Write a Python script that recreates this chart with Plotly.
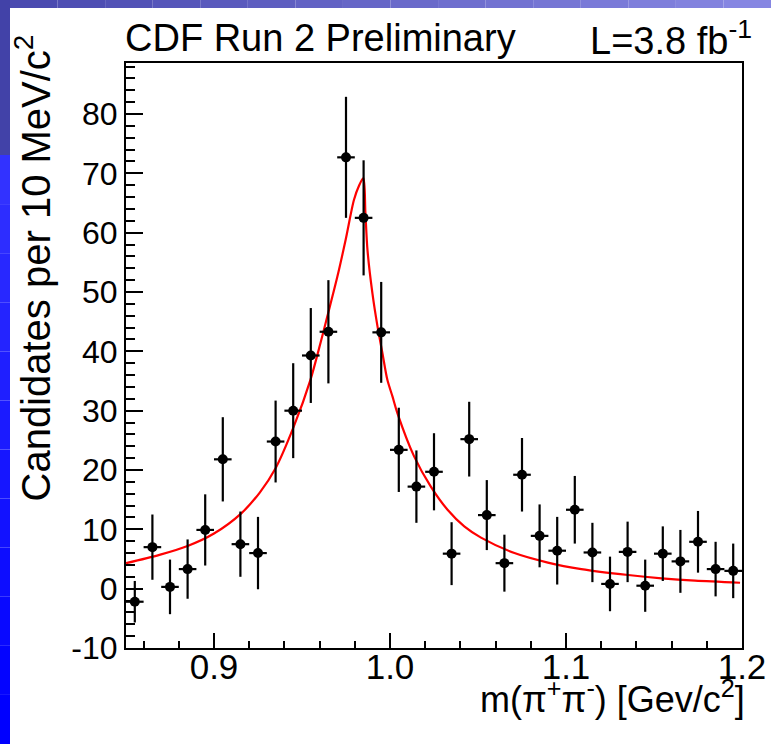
import plotly.graph_objects as go

# ---- data ----
mass = [0.855, 0.865, 0.875, 0.885, 0.895, 0.905, 0.915, 0.925, 0.935, 0.945,
        0.955, 0.965, 0.975, 0.985, 0.995, 1.005, 1.015, 1.025, 1.035, 1.045,
        1.055, 1.065, 1.075, 1.085, 1.095, 1.105, 1.115, 1.125, 1.135, 1.145,
        1.155, 1.165, 1.175, 1.185, 1.195]
counts = [-2.2, 7.0, 0.3, 3.3, 9.9, 21.8, 7.5, 6.0, 24.8, 30.0,
          39.3, 43.3, 72.7, 62.5, 43.2, 23.4, 17.2, 19.7, 5.9, 25.2,
          12.4, 4.3, 19.2, 8.9, 6.4, 13.3, 6.1, 0.8, 6.2, 0.5,
          5.9, 4.6, 7.9, 3.3, 3.0]
count_err = [3.5, 5.5, 4.6, 5.0, 6.0, 7.1, 5.5, 6.1, 6.9, 8.0,
             8.0, 8.7, 10.2, 9.7, 8.5, 7.1, 6.1, 6.5, 5.3, 6.3,
             5.9, 4.8, 6.2, 5.3, 5.7, 5.7, 5.0, 4.6, 5.1, 4.4,
             4.6, 5.3, 5.2, 4.6, 4.6]
bin_half = [0.005] * len(mass)

fit_x = [0.850, 0.869, 0.885, 0.900, 0.9155, 0.926, 0.935, 0.9453, 0.9548,
         0.9605, 0.9644, 0.9701, 0.9748, 0.9795, 0.9825, 0.9849, 0.9860, 0.9872,
         0.9900, 0.9929, 0.9957, 0.9985, 1.0014, 1.0042, 1.0137, 1.0232, 1.0327,
         1.0422, 1.0517, 1.0707, 1.0897, 1.1087, 1.1353, 1.1543, 1.1733, 1.1989]
fit_y = [4.3, 5.7, 7.2, 9.3, 12.7, 16.2, 20.3, 27.3, 35.2,
         41.4, 45.9, 52.6, 58.8, 65.5, 68.0, 69.2, 63.5, 57.1,
         49.8, 44.2, 39.7, 35.2, 32.4, 29.6, 22.3, 17.2, 13.3,
         10.5, 8.6, 6.0, 4.4, 3.3, 2.3, 1.75, 1.35, 1.0]

x_ticks = [0.9, 1.0, 1.1, 1.2]
x_tick_labels = ["0.9", "1.0", "1.1", "1.2"]
y_ticks = [-10, 0, 10, 20, 30, 40, 50, 60, 70, 80]
y_tick_labels = ["-10", "0", "10", "20", "30", "40", "50", "60", "70", "80"]

# ---- layout geometry (pixels) ----
W, H = 771, 744
L, R, T, B = 126, 742, 63, 648
pw, ph = R - L, B - T


def px(x):
    return (x - L) / pw


def py(y):
    return (B - y) / ph


FONT = "Liberation Sans, Arial, Helvetica, sans-serif"

fig = go.Figure()

fig.add_trace(go.Scatter(
    x=fit_x, y=fit_y, mode="lines",
    line=dict(color="#ff0000", width=2.2, shape="spline", smoothing=0.8),
    hoverinfo="skip", showlegend=False))

fig.add_trace(go.Scatter(
    x=mass, y=counts, mode="markers",
    marker=dict(color="black", size=10),
    error_y=dict(type="data", array=count_err, color="black", thickness=2.2, width=0),
    error_x=dict(type="data", array=bin_half, color="black", thickness=2.2, width=0),
    showlegend=False))

shapes = []
# slide background decorations
shapes.append(dict(type="rect", xref="paper", yref="paper", layer="below",
                   x0=px(0), x1=px(10), y0=py(0), y1=py(155),
                   fillcolor="#4242a8", line=dict(width=0)))
n = 12
for i in range(n):
    y0 = 155 + (H - 155) * i / n
    y1 = 155 + (H - 155) * (i + 1) / n
    g = int(50 - 50 * i / (n - 1))
    shapes.append(dict(type="rect", xref="paper", yref="paper", layer="below",
                       x0=px(0), x1=px(10), y0=py(y0), y1=py(y1),
                       fillcolor=f"rgb({g},{g},255)", line=dict(width=0)))
m = 16
for i in range(m):
    x0 = 10 + (W - 10) * i / m
    x1 = 10 + (W - 10) * (i + 1) / m
    r = int(74 + 60 * i / (m - 1))
    b = int(176 + 50 * i / (m - 1))
    shapes.append(dict(type="rect", xref="paper", yref="paper", layer="below",
                       x0=px(x0), x1=px(x1), y0=py(0), y1=py(8),
                       fillcolor=f"rgb({r},{r},{b})", line=dict(width=0)))

annotations = [
    dict(text="CDF Run 2 Preliminary", x=px(123), y=py(38), xref="paper", yref="paper",
         xanchor="left", yanchor="middle", showarrow=False,
         font=dict(family=FONT, size=38, color="black")),
    dict(text="L=3.8 fb<sup>-1</sup>", x=px(754), y=py(38), xref="paper", yref="paper",
         xanchor="right", yanchor="middle", showarrow=False,
         font=dict(family=FONT, size=38, color="black")),
    dict(text="Candidates per 10 MeV/c<sup>2</sup>", x=px(33), y=py(33),
         xref="paper", yref="paper", xanchor="center", yanchor="top",
         textangle=-90, showarrow=False,
         font=dict(family=FONT, size=40, color="black")),
    dict(text="m(\u03c0<sup>+</sup>\u03c0<sup>-</sup>) [Gev/c<sup>2</sup>]",
         x=px(747), y=py(697), xref="paper", yref="paper",
         xanchor="right", yanchor="middle", showarrow=False,
         font=dict(family=FONT, size=36, color="black")),
]

fig.update_layout(
    width=W, height=H,
    margin=dict(l=L, r=W - R, t=T, b=H - B, pad=0, autoexpand=False),
    paper_bgcolor="white", plot_bgcolor="white",
    shapes=shapes, annotations=annotations,
    showlegend=False,
    xaxis=dict(range=[0.85, 1.2], tickvals=x_ticks, ticktext=x_tick_labels,
               ticks="inside", ticklen=15, tickwidth=1.5, tickcolor="black",
               minor=dict(tick0=0.86, dtick=0.02, ticks="inside", ticklen=7,
                          tickwidth=1.5, tickcolor="black", showgrid=False),
               showline=True, linecolor="black", linewidth=2, mirror=True,
               showgrid=False, zeroline=False, automargin=False,
               ticklabelstandoff=-13,
               tickfont=dict(family=FONT, size=35, color="black")),
    yaxis=dict(range=[-10, 88.6], tickvals=y_ticks, ticktext=y_tick_labels,
               ticks="inside", ticklen=17, tickwidth=1.5, tickcolor="black",
               minor=dict(tick0=-10, dtick=2, ticks="inside", ticklen=9,
                          tickwidth=1.5, tickcolor="black", showgrid=False),
               showline=True, linecolor="black", linewidth=2, mirror=True,
               showgrid=False, zeroline=False, automargin=False,
               tickfont=dict(family=FONT, size=32, color="black")),
)

fig.write_html("out.html")
